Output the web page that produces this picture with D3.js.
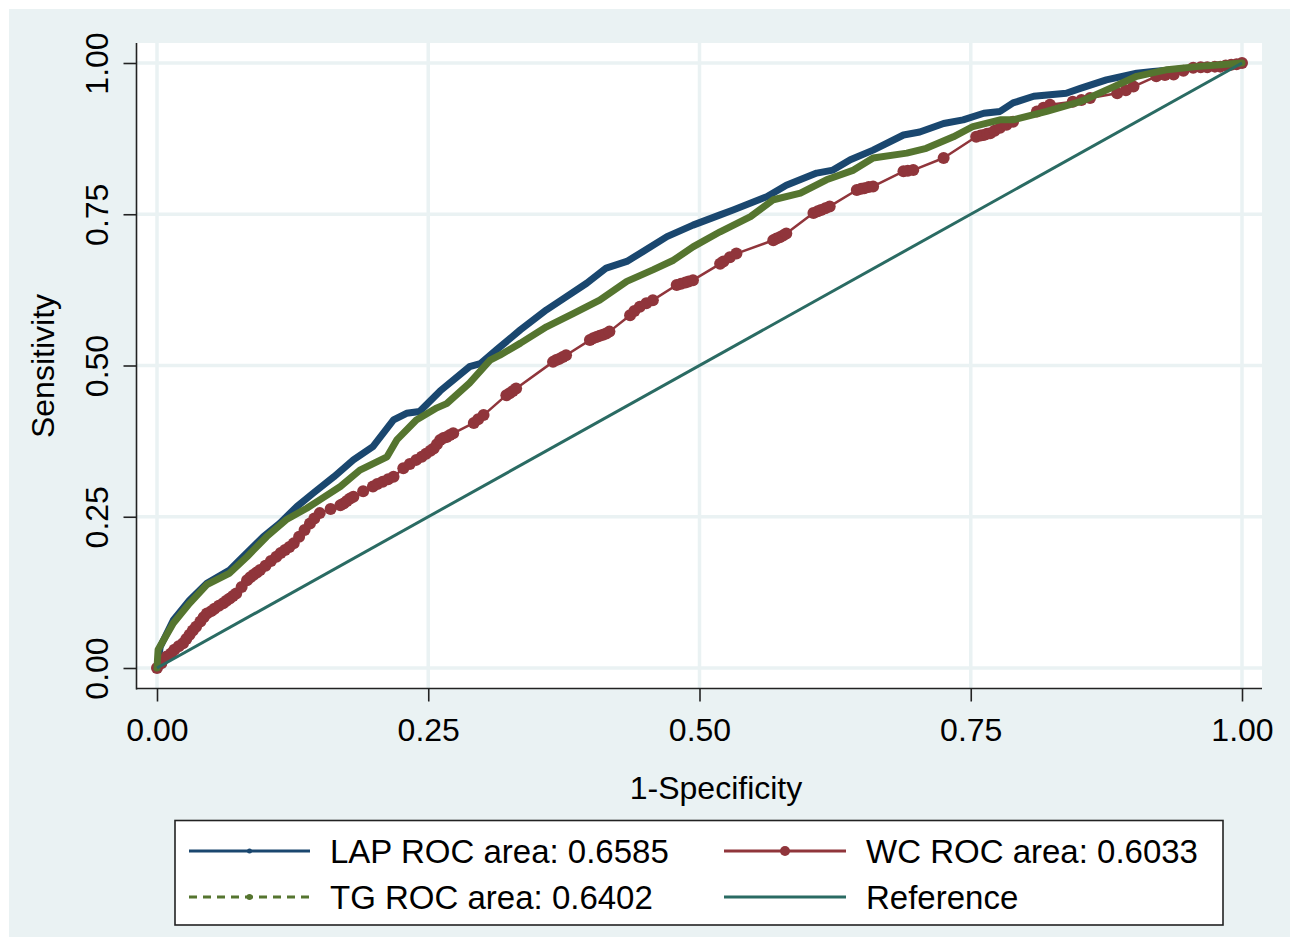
<!DOCTYPE html>
<html>
<head>
<meta charset="utf-8">
<script src="https://cdn.jsdelivr.net/npm/d3@7"></script>
<style>
  html, body { margin: 0; padding: 0; background: #ffffff; }
  svg { display: block; }
  text { font-family: "Liberation Sans", Arial, sans-serif; fill: #000; }
</style>
</head>
<body>
<svg id="chart" width="1290" height="937"></svg>
<script>
// ---- data ----
const tickValues = [0, 0.25, 0.5, 0.75, 1];
const xTitle = "1-Specificity";
const yTitle = "Sensitivity";

const lapX = [0, 0.003, 0.015, 0.030, 0.046, 0.067, 0.076, 0.098, 0.113, 0.129, 0.144, 0.163, 0.181, 0.199, 0.218, 0.230, 0.242, 0.261, 0.288, 0.298, 0.313, 0.335, 0.359, 0.375, 0.396, 0.414, 0.433, 0.445, 0.470, 0.494, 0.519, 0.531, 0.562, 0.580, 0.608, 0.623, 0.639, 0.660, 0.688, 0.703, 0.725, 0.743, 0.762, 0.777, 0.789, 0.808, 0.838, 0.851, 0.875, 0.903, 0.918, 0.950, 0.975, 1];
const lapY = [0, 0.035, 0.079, 0.112, 0.140, 0.162, 0.178, 0.217, 0.239, 0.267, 0.289, 0.316, 0.344, 0.366, 0.410, 0.421, 0.424, 0.458, 0.498, 0.503, 0.526, 0.559, 0.592, 0.611, 0.636, 0.661, 0.672, 0.685, 0.713, 0.732, 0.749, 0.757, 0.779, 0.798, 0.818, 0.823, 0.840, 0.856, 0.881, 0.886, 0.900, 0.906, 0.917, 0.920, 0.934, 0.945, 0.950, 0.958, 0.972, 0.983, 0.986, 0.991, 0.995, 1];

const tgX = [0, 0.001, 0.015, 0.030, 0.046, 0.067, 0.083, 0.101, 0.119, 0.138, 0.150, 0.169, 0.187, 0.212, 0.221, 0.239, 0.258, 0.267, 0.288, 0.307, 0.316, 0.335, 0.359, 0.384, 0.408, 0.433, 0.457, 0.476, 0.494, 0.519, 0.547, 0.568, 0.593, 0.617, 0.642, 0.660, 0.691, 0.709, 0.734, 0.752, 0.777, 0.789, 0.820, 0.851, 0.882, 0.903, 0.931, 0.958, 0.980, 1];
const tgY = [0, 0.030, 0.074, 0.107, 0.138, 0.157, 0.184, 0.217, 0.245, 0.264, 0.278, 0.300, 0.327, 0.349, 0.377, 0.410, 0.430, 0.437, 0.471, 0.509, 0.517, 0.537, 0.564, 0.586, 0.608, 0.639, 0.658, 0.674, 0.696, 0.721, 0.746, 0.774, 0.785, 0.807, 0.823, 0.843, 0.851, 0.859, 0.878, 0.895, 0.906, 0.906, 0.920, 0.936, 0.961, 0.978, 0.989, 0.994, 0.997, 1];

const wcX = [0, 0.004, 0.009, 0.013, 0.016, 0.020, 0.024, 0.027, 0.030, 0.033, 0.036, 0.040, 0.043, 0.046, 0.050, 0.053, 0.057, 0.061, 0.064, 0.067, 0.070, 0.073, 0.078, 0.083, 0.086, 0.089, 0.092, 0.095, 0.100, 0.105, 0.110, 0.114, 0.118, 0.122, 0.126, 0.131, 0.136, 0.141, 0.145, 0.150, 0.160, 0.169, 0.172, 0.175, 0.178, 0.181, 0.190, 0.199, 0.203, 0.208, 0.213, 0.218, 0.227, 0.233, 0.239, 0.244, 0.248, 0.252, 0.255, 0.258, 0.261, 0.264, 0.267, 0.270, 0.273, 0.292, 0.296, 0.301, 0.322, 0.325, 0.328, 0.331, 0.365, 0.368, 0.371, 0.374, 0.377, 0.399, 0.402, 0.405, 0.408, 0.411, 0.414, 0.417, 0.436, 0.440, 0.445, 0.451, 0.457, 0.479, 0.483, 0.487, 0.490, 0.494, 0.519, 0.522, 0.528, 0.534, 0.568, 0.571, 0.574, 0.577, 0.580, 0.605, 0.609, 0.612, 0.616, 0.620, 0.645, 0.649, 0.652, 0.656, 0.660, 0.688, 0.692, 0.697, 0.725, 0.755, 0.759, 0.762, 0.765, 0.768, 0.772, 0.777, 0.783, 0.789, 0.811, 0.817, 0.823, 0.844, 0.852, 0.860, 0.885, 0.893, 0.900, 0.921, 0.929, 0.937, 0.946, 0.955, 0.962, 0.968, 0.975, 0.980, 0.985, 0.990, 0.995, 1];
const wcY = [0, 0.008, 0.019, 0.024, 0.030, 0.036, 0.041, 0.048, 0.055, 0.062, 0.068, 0.077, 0.084, 0.090, 0.094, 0.098, 0.103, 0.107, 0.111, 0.115, 0.119, 0.123, 0.134, 0.145, 0.150, 0.154, 0.158, 0.162, 0.169, 0.177, 0.184, 0.190, 0.195, 0.200, 0.206, 0.217, 0.228, 0.239, 0.247, 0.256, 0.263, 0.269, 0.272, 0.276, 0.280, 0.283, 0.292, 0.300, 0.304, 0.308, 0.312, 0.316, 0.330, 0.337, 0.344, 0.349, 0.354, 0.359, 0.363, 0.370, 0.377, 0.380, 0.382, 0.385, 0.388, 0.405, 0.411, 0.418, 0.451, 0.454, 0.458, 0.462, 0.506, 0.509, 0.511, 0.514, 0.517, 0.542, 0.545, 0.547, 0.549, 0.551, 0.553, 0.556, 0.583, 0.590, 0.597, 0.603, 0.608, 0.633, 0.635, 0.637, 0.639, 0.641, 0.668, 0.672, 0.679, 0.685, 0.707, 0.710, 0.712, 0.715, 0.718, 0.752, 0.755, 0.757, 0.760, 0.763, 0.790, 0.792, 0.793, 0.795, 0.796, 0.821, 0.822, 0.823, 0.843, 0.878, 0.880, 0.881, 0.883, 0.884, 0.888, 0.893, 0.898, 0.903, 0.920, 0.926, 0.931, 0.936, 0.939, 0.942, 0.950, 0.955, 0.961, 0.978, 0.980, 0.981, 0.987, 0.992, 0.993, 0.993, 0.994, 0.994, 0.996, 0.997, 0.998, 1];

const refX = [0, 1];
const refY = [0, 1];

const legendLabels = ["LAP ROC area: 0.6585", "WC ROC area: 0.6033", "TG ROC area: 0.6402", "Reference"];

// ---- drawing ----
const svg = d3.select("#chart");
const colors = { lap: "#1a476f", wc: "#90353b", tg: "#55752f", ref: "#2a6b63", bg: "#eaf2f3" };

// graph region background
svg.append("rect").attr("x", 9).attr("y", 9).attr("width", 1281).attr("height", 928).attr("fill", colors.bg);
// plot region
svg.append("rect").attr("x", 137).attr("y", 43).attr("width", 1125).attr("height", 646).attr("fill", "#ffffff");

const x = d3.scaleLinear().domain([0, 1]).range([157, 1242]);
const y = d3.scaleLinear().domain([0, 1]).range([668, 63]);

// gridlines
const grid = svg.append("g");
grid.selectAll("line.v").data(tickValues).enter().append("line")
  .attr("x1", d => x(d)).attr("x2", d => x(d)).attr("y1", 43).attr("y2", 689)
  .attr("stroke", colors.bg).attr("stroke-width", 3.5);
grid.selectAll("line.h").data(tickValues).enter().append("line")
  .attr("y1", d => y(d)).attr("y2", d => y(d)).attr("x1", 137).attr("x2", 1262)
  .attr("stroke", colors.bg).attr("stroke-width", 3.5);

// axes lines
svg.append("line").attr("x1", 136.5).attr("x2", 136.5).attr("y1", 43).attr("y2", 689.5).attr("stroke", "#222").attr("stroke-width", 1.6);
svg.append("line").attr("x1", 136).attr("x2", 1262).attr("y1", 688.5).attr("y2", 688.5).attr("stroke", "#222").attr("stroke-width", 1.6);

// ticks via d3 axes
const fmt = d3.format(".2f");
const xAxis = svg.append("g").attr("transform", "translate(0,688.5)")
  .call(d3.axisBottom(x).tickValues(tickValues).tickFormat(fmt).tickSize(13).tickPadding(17));
xAxis.select(".domain").remove();
xAxis.selectAll(".tick line").attr("stroke", "#222").attr("stroke-width", 1.6);
xAxis.selectAll(".tick text").attr("font-size", 32).attr("font-family", "Liberation Sans, Arial, sans-serif").attr("fill", "#000");

const yAxis = svg.append("g").attr("transform", "translate(136.5,0)")
  .call(d3.axisLeft(y).tickValues(tickValues).tickFormat(fmt).tickSize(13));
yAxis.select(".domain").remove();
yAxis.selectAll(".tick line").attr("stroke", "#222").attr("stroke-width", 1.6);
yAxis.selectAll(".tick text")
  .attr("x", null).attr("dy", null)
  .attr("transform", "translate(-28.5,0) rotate(-90)")
  .attr("text-anchor", "middle")
  .attr("font-size", 32).attr("font-family", "Liberation Sans, Arial, sans-serif").attr("fill", "#000");

// axis titles
svg.append("text").attr("x", 716).attr("y", 799).attr("text-anchor", "middle").attr("font-size", 32).text(xTitle);
svg.append("text").attr("transform", "translate(54,366) rotate(-90)").attr("text-anchor", "middle").attr("font-size", 32).text(yTitle);

// series
const line = d3.line().x(d => x(d[0])).y(d => y(d[1]));
const lapData = d3.zip(lapX, lapY);
const tgData = d3.zip(tgX, tgY);
const wcData = d3.zip(wcX, wcY);
const refData = d3.zip(refX, refY);

const clipId = "plotclip";
svg.append("clipPath").attr("id", clipId).append("rect").attr("x", 137).attr("y", 43).attr("width", 1125).attr("height", 645);
const plot = svg.append("g").attr("clip-path", `url(#${clipId})`);

// LAP
plot.append("path").datum(lapData).attr("d", line).attr("fill", "none")
  .attr("stroke", colors.lap).attr("stroke-width", 7).attr("stroke-linejoin", "round").attr("stroke-linecap", "round");
// WC
plot.append("path").datum(wcData).attr("d", line).attr("fill", "none")
  .attr("stroke", colors.wc).attr("stroke-width", 2.5).attr("stroke-linejoin", "round");
plot.selectAll("circle.wc").data(wcData).enter().append("circle")
  .attr("cx", d => x(d[0])).attr("cy", d => y(d[1])).attr("r", 6).attr("fill", colors.wc);
// TG
plot.append("path").datum(tgData).attr("d", line).attr("fill", "none")
  .attr("stroke", colors.tg).attr("stroke-width", 7).attr("stroke-linejoin", "round").attr("stroke-linecap", "round");
// Reference
plot.append("path").datum(refData).attr("d", line).attr("fill", "none")
  .attr("stroke", colors.ref).attr("stroke-width", 3);

// legend
const lg = svg.append("g");
lg.append("rect").attr("x", 175).attr("y", 820.5).attr("width", 1048).attr("height", 104.5)
  .attr("fill", "#fff").attr("stroke", "#222").attr("stroke-width", 1.6);
const legendItems = [
  { label: legendLabels[0], color: colors.lap, x0: 189, x1: 310, cy: 851, dash: null, r: 2.5, tx: 330 },
  { label: legendLabels[1], color: colors.wc, x0: 724, x1: 846, cy: 851, dash: null, r: 5, tx: 866 },
  { label: legendLabels[2], color: colors.tg, x0: 189, x1: 310, cy: 897, dash: "8,6", r: 3, tx: 330 },
  { label: legendLabels[3], color: colors.ref, x0: 724, x1: 846, cy: 897, dash: null, r: 0, tx: 866 }
];
legendItems.forEach(it => {
  lg.append("line").attr("x1", it.x0).attr("x2", it.x1).attr("y1", it.cy).attr("y2", it.cy)
    .attr("stroke", it.color).attr("stroke-width", 3).attr("stroke-dasharray", it.dash);
  if (it.r > 0) {
    lg.append("circle").attr("cx", (it.x0 + it.x1) / 2).attr("cy", it.cy).attr("r", it.r).attr("fill", it.color);
  }
  lg.append("text").attr("x", it.tx).attr("y", it.cy + 12).attr("font-size", 33).text(it.label);
});
</script>
</body>
</html>
